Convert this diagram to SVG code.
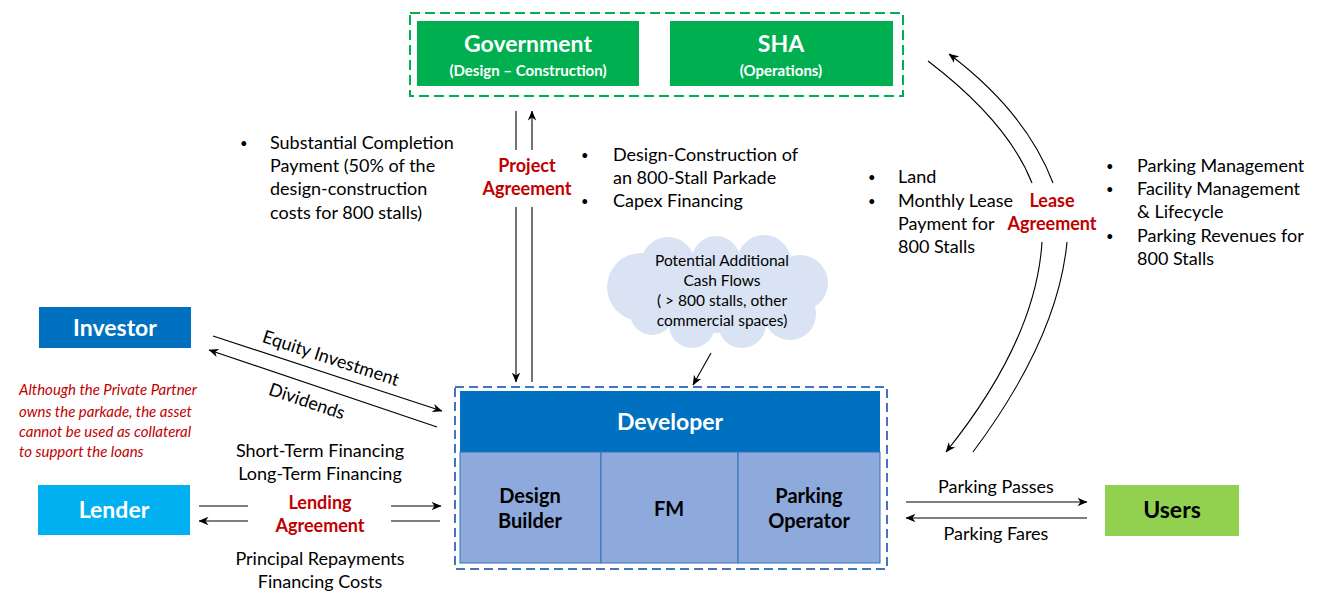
<svg xmlns="http://www.w3.org/2000/svg" width="1320" height="591" viewBox="0 0 1320 591">
  <defs>
    <marker id="ah" viewBox="0 0 10 10" refX="9.5" refY="5" markerWidth="10" markerHeight="10" orient="auto-start-reverse" markerUnits="userSpaceOnUse">
      <path d="M0,0.8 L10,5 L0,9.2 L3,5 z" fill="#000"/>
    </marker>
    <style>
      text { font-family: Lato, "Liberation Sans", sans-serif; }
      .body { font-size: 18px; fill: #000; }
      .blt { font-size: 13px; fill: #000; }
      .red { font-size: 18px; font-weight: bold; fill: #C00000; text-anchor: middle; }
      .note { font-size: 15px; font-style: italic; fill: #C00000; }
      .hdr { font-weight: bold; fill: #fff; text-anchor: middle; }
      .cell { font-size: 20px; font-weight: bold; fill: #000; text-anchor: middle; }
      .mid { text-anchor: middle; }
      .ln { stroke: #000; stroke-width: 1.1; fill: none; }
      .arr { marker-end: url(#ah); }
      .green { fill: #00B050; }
    </style>
  </defs>
  <rect width="1320" height="591" fill="#fff"/>

  <!-- public sector parties -->
  <g id="public-sector">
    <rect x="410" y="13" width="493" height="83" fill="none" stroke="#00B050" stroke-width="2" stroke-dasharray="10 5"/>
  </g>
  <g id="government">
    <rect class="green" x="417" y="21" width="222" height="65"/>
    <text class="hdr" x="528" y="52" font-size="23">Government</text>
    <text class="hdr" x="528" y="76" font-size="15">(Design – Construction)</text>
  </g>
  <g id="sha">
    <rect class="green" x="670" y="21" width="223" height="65"/>
    <text class="hdr" x="781" y="52" font-size="23">SHA</text>
    <text class="hdr" x="781" y="76" font-size="15">(Operations)</text>
  </g>

  <!-- private partner -->
  <g id="developer">
    <rect x="455" y="387" width="432" height="182" fill="none" stroke="#4472C4" stroke-width="2" stroke-dasharray="9 5"/>
    <rect x="460" y="391" width="420" height="61" fill="#0070C0"/>
    <text class="hdr" x="670" y="430" font-size="23">Developer</text>
  </g>
  <g id="design-builder">
    <rect x="460" y="452" width="141" height="111" fill="#8EA9DB" stroke="#2E75B6" stroke-width="1"/>
    <text class="cell" x="530" y="503">Design</text>
    <text class="cell" x="530" y="528">Builder</text>
  </g>
  <g id="fm">
    <rect x="601" y="452" width="137" height="111" fill="#8EA9DB" stroke="#2E75B6" stroke-width="1"/>
    <text class="cell" x="669" y="516">FM</text>
  </g>
  <g id="parking-operator">
    <rect x="738" y="452" width="142" height="111" fill="#8EA9DB" stroke="#2E75B6" stroke-width="1"/>
    <text class="cell" x="809" y="503">Parking</text>
    <text class="cell" x="809" y="528">Operator</text>
  </g>

  <g id="investor">
    <rect x="39" y="307" width="152" height="41" fill="#0070C0"/>
    <text class="hdr" x="115" y="336" font-size="23">Investor</text>
  </g>
  <g id="lender">
    <rect x="38" y="485" width="152" height="50" fill="#00B0F0"/>
    <text class="hdr" x="114" y="518" font-size="23">Lender</text>
  </g>
  <g id="users">
    <rect x="1105" y="485" width="134" height="51" fill="#92D050"/>
    <text x="1172" y="518" font-size="23" font-weight="bold" text-anchor="middle" fill="#000">Users</text>
  </g>

  <!-- additional cash flow cloud -->
  <g id="cash-flow-cloud" fill="#DAE3F3">
    <ellipse cx="717" cy="293" rx="92" ry="40"/>
    <circle cx="641" cy="287" r="34"/>
    <circle cx="668" cy="264" r="27"/>
    <circle cx="716" cy="260" r="24"/>
    <circle cx="764" cy="262" r="27"/>
    <circle cx="800" cy="283" r="28"/>
    <circle cx="790" cy="314" r="26"/>
    <circle cx="742" cy="324" r="24"/>
    <circle cx="692" cy="325" r="23"/>
    <circle cx="652" cy="313" r="22"/>
    <text class="mid" x="722" y="266" font-size="15.5" fill="#000">Potential Additional</text>
    <text class="mid" x="722" y="286" font-size="15.5" fill="#000">Cash Flows</text>
    <text class="mid" x="722" y="306" font-size="15.5" fill="#000">( &gt; 800 stalls, other</text>
    <text class="mid" x="722" y="326" font-size="15.5" fill="#000">commercial spaces)</text>
  </g>

  <!-- connectors -->
  <g id="connectors">
    <!-- project agreement -->
    <line class="ln" x1="516" y1="111" x2="516" y2="150"/>
    <line class="ln arr" x1="516" y1="207" x2="516" y2="382"/>
    <line class="ln" x1="532" y1="382" x2="532" y2="207"/>
    <line class="ln arr" x1="532" y1="150" x2="532" y2="111"/>
    <!-- lease agreement -->
    <path class="ln" d="M928,61 Q1008,122 1032,183"/>
    <path class="ln arr" d="M1042,242 Q1036,340 946,452"/>
    <path class="ln" d="M973,452 Q1058,338 1067,242"/>
    <path class="ln arr" d="M1053,183 Q1026,112 949,54"/>
    <!-- equity -->
    <line class="ln arr" x1="213" y1="336" x2="442" y2="411"/>
    <line class="ln arr" x1="437" y1="427" x2="209" y2="350"/>
    <!-- lending -->
    <line class="ln" x1="199" y1="506" x2="248" y2="506"/>
    <line class="ln arr" x1="248" y1="521" x2="199" y2="521"/>
    <line class="ln arr" x1="391" y1="506" x2="441" y2="506"/>
    <line class="ln" x1="391" y1="521" x2="440" y2="521"/>
    <!-- users -->
    <line class="ln arr" x1="906" y1="502" x2="1087" y2="502"/>
    <line class="ln arr" x1="1087" y1="518" x2="906" y2="518"/>
    <!-- cloud -->
    <line class="ln arr" x1="711" y1="353" x2="693" y2="385"/>
  </g>

  <!-- labels -->
  <g id="project-agreement-text">
    <text class="blt" x="240" y="148">•</text>
    <text class="body" x="270" y="149">Substantial Completion</text>
    <text class="body" x="270" y="172">Payment (50% of the</text>
    <text class="body" x="270" y="195">design-construction</text>
    <text class="body" x="270" y="219">costs for 800 stalls)</text>
    <text class="red" x="527" y="172">Project</text>
    <text class="red" x="527" y="195">Agreement</text>
    <text class="blt" x="581" y="160">•</text>
    <text class="body" x="613" y="161">Design-Construction of</text>
    <text class="body" x="613" y="184">an 800-Stall Parkade</text>
    <text class="blt" x="581" y="206">•</text>
    <text class="body" x="613" y="207">Capex Financing</text>
  </g>
  <g id="lease-agreement-text">
    <text class="blt" x="868" y="182">•</text>
    <text class="body" x="898" y="183">Land</text>
    <text class="blt" x="868" y="206">•</text>
    <text class="body" x="898" y="207">Monthly Lease</text>
    <text class="body" x="898" y="230">Payment for</text>
    <text class="body" x="898" y="253">800 Stalls</text>
    <text class="red" x="1052" y="207">Lease</text>
    <text class="red" x="1052" y="230">Agreement</text>
    <text class="blt" x="1106" y="171">•</text>
    <text class="body" x="1137" y="172">Parking Management</text>
    <text class="blt" x="1106" y="194">•</text>
    <text class="body" x="1137" y="195">Facility Management</text>
    <text class="body" x="1137" y="218">&amp; Lifecycle</text>
    <text class="blt" x="1106" y="241">•</text>
    <text class="body" x="1137" y="242">Parking Revenues for</text>
    <text class="body" x="1137" y="265">800 Stalls</text>
  </g>
  <g id="equity-text">
    <text class="body mid" transform="translate(329,364) rotate(18.1)">Equity Investment</text>
    <text class="body mid" transform="translate(305,407) rotate(18.6)">Dividends</text>
  </g>
  <g id="collateral-note">
    <text class="note" x="19" y="395">Although the Private Partner</text>
    <text class="note" x="19" y="417">owns the parkade, the asset</text>
    <text class="note" x="19" y="437">cannot be used as collateral</text>
    <text class="note" x="19" y="457">to support the loans</text>
  </g>
  <g id="lending-text">
    <text class="body mid" x="320" y="457">Short-Term Financing</text>
    <text class="body mid" x="320" y="480">Long-Term Financing</text>
    <text class="red" x="320" y="509">Lending</text>
    <text class="red" x="320" y="532">Agreement</text>
    <text class="body mid" x="320" y="565">Principal Repayments</text>
    <text class="body mid" x="320" y="588">Financing Costs</text>
  </g>
  <g id="users-text">
    <text class="body mid" x="996" y="493">Parking Passes</text>
    <text class="body mid" x="996" y="540">Parking Fares</text>
  </g>
</svg>
